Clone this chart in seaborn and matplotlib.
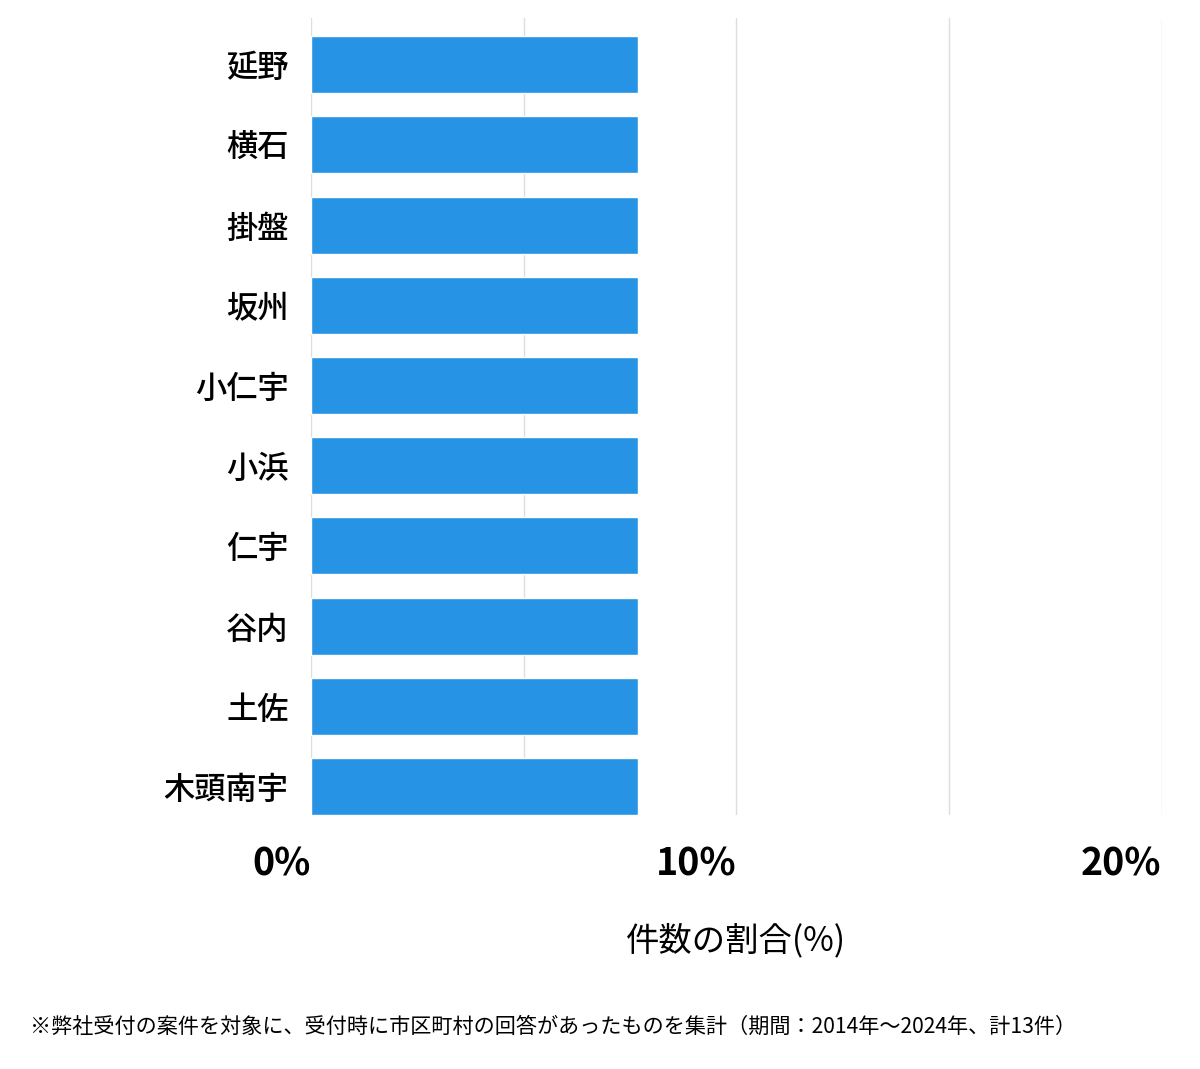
import matplotlib
matplotlib.use("Agg")
import matplotlib.pyplot as plt
import seaborn as sns
import pandas as pd

# data (13 cases total, 1 each -> 1/13)
areas = ["延野", "横石", "掛盤", "坂州", "小仁宇", "小浜", "仁宇", "谷内", "土佐", "木頭南宇"]
shares = [7.69, 7.69, 7.69, 7.69, 7.69, 7.69, 7.69, 7.69, 7.69, 7.69]
tick_vals = [0, 10, 20]
tick_labels = ["0%", "10%", "20%"]

df = pd.DataFrame({"area": areas, "share": shares})

sns.set_style("white")
plt.rcParams["font.family"] = ["Noto Sans CJK JP", "DejaVu Sans"]
plt.rcParams["text.color"] = "black"
plt.rcParams["xtick.color"] = "black"
plt.rcParams["ytick.color"] = "black"
plt.rcParams["axes.labelcolor"] = "black"

fig = plt.figure(figsize=(12, 10.69), dpi=100)
ax = fig.add_axes([0.259, 0.2376, 0.709, 0.7454])

sns.barplot(data=df, x="share", y="area", orient="h", color="#2793E5",
            saturation=1, width=0.71, ax=ax, zorder=3)

ax.set_xlim(0, 20)
ax.set_ylim(9.355, -0.58)

ax.set_xticks(tick_vals)
ax.set_xticklabels(tick_labels, fontsize=27, fontweight="bold", ha="right")
ax.set_xticks([5, 15], minor=True)
ax.tick_params(axis="x", which="both", length=0, pad=21)
ax.tick_params(axis="y", length=0, pad=16)
for lbl in ax.get_yticklabels():
    lbl.set_fontsize(22.5)
    lbl.set_fontweight("medium")
ax.grid(axis="x", which="both", color="#dddddd", linewidth=1, zorder=0)
ax.set_axisbelow(True)

for s in ax.spines.values():
    s.set_visible(False)

ax.set_ylabel("")
ax.set_xlabel("件数の割合(%)", fontsize=24, labelpad=29)

fig.text(0.025, 0.039, "※弊社受付の案件を対象に、受付時に市区町村の回答があったものを集計（期間：2014年～2024年、計13件）",
         fontsize=15.2, ha="left", va="center")

fig.savefig("out.png", dpi=100)
